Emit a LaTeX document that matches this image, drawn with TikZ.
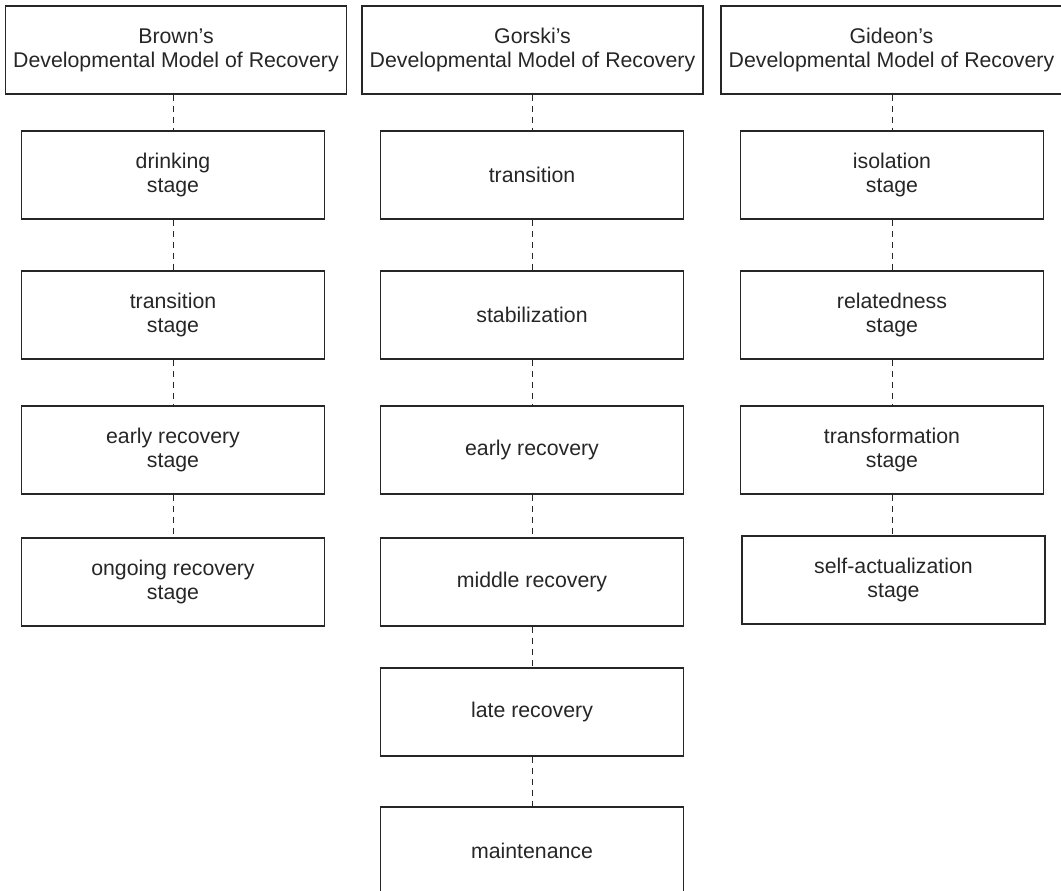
\documentclass[tikz,border=0pt]{standalone}
\usepackage{fontspec}
\setmainfont{Liberation Sans}
\definecolor{ink}{HTML}{262626}
\tikzset{
  box/.style={draw=ink, line width=1.2pt, rectangle, inner sep=0pt, align=center,
    minimum width=303pt, minimum height=88pt, text=ink,
    font=\fontsize{21.3}{24}\selectfont},
  headbox/.style={box, minimum width=341pt},
  link/.style={draw=ink, line width=1pt, dash pattern=on 6pt off 5pt}
}
\begin{document}
\begin{tikzpicture}[x=1pt,y=-1pt]
\useasboundingbox (0,0) rectangle (1061,891);
% headers
\node[headbox] (h1) at (176,50) {Brown's\\Developmental Model of Recovery};
\node[headbox] (h2) at (532.5,50) {Gorski's\\Developmental Model of Recovery};
\node[headbox] (h3) at (891.5,50) {Gideon's\\Developmental Model of Recovery};
% Brown
\node[box] (b1) at (173,175) {drinking\\stage};
\node[box] (b2) at (173,315) {transition\\stage};
\node[box] (b3) at (173,450) {early recovery\\stage};
\node[box] (b4) at (173,582) {ongoing recovery\\stage};
% Gorski
\node[box] (g1) at (532,175) {transition};
\node[box] (g2) at (532,315) {stabilization};
\node[box] (g3) at (532,450) {early recovery};
\node[box] (g4) at (532,582) {middle recovery};
\node[box] (g5) at (532,712) {late recovery};
\node[box] (g6) at (532,851) {maintenance};
% Gideon
\node[box] (d1) at (892,175) {isolation\\stage};
\node[box] (d2) at (892,315) {relatedness\\stage};
\node[box] (d3) at (892,450) {transformation\\stage};
\node[box] (d4) at (893.5,580) {self-actualization\\stage};
% connectors
\draw[link] (h1.south -| b1) -- (b1.north);
\draw[link] (b1.south) -- (b2.north);
\draw[link] (b2.south) -- (b3.north);
\draw[link] (b3.south) -- (b4.north);
\draw[link] (h2.south -| g1) -- (g1.north);
\draw[link] (g1.south) -- (g2.north);
\draw[link] (g2.south) -- (g3.north);
\draw[link] (g3.south) -- (g4.north);
\draw[link] (g4.south) -- (g5.north);
\draw[link] (g5.south) -- (g6.north);
\draw[link] (h3.south -| d1) -- (d1.north);
\draw[link] (d1.south) -- (d2.north);
\draw[link] (d2.south) -- (d3.north);
\draw[link] (d3.south) -- (d4.north -| d3);
\end{tikzpicture}
\end{document}
